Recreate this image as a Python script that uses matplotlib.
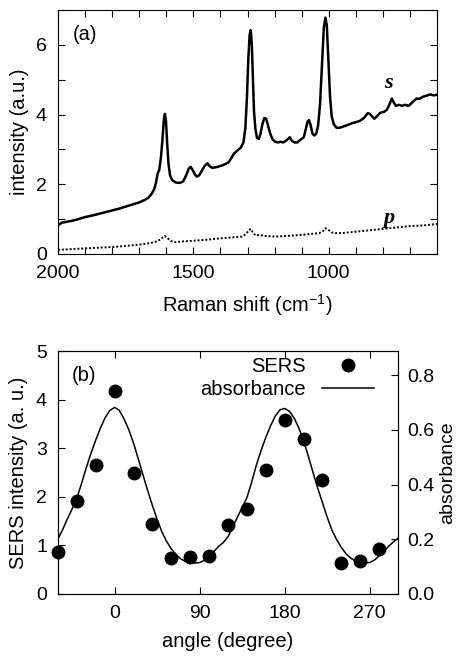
import matplotlib
matplotlib.use('Agg')
import matplotlib.pyplot as plt
import numpy as np
from matplotlib.ticker import MultipleLocator, FixedLocator

plt.rcParams['font.family'] = ['Liberation Sans', 'DejaVu Sans']
plt.rcParams['font.size'] = 14
plt.rcParams['mathtext.fontset'] = 'custom'
plt.rcParams['mathtext.rm'] = 'Liberation Sans'
plt.rcParams['mathtext.default'] = 'regular'

######################################
### DATA #############################
######################################
# (a) Raman spectra, s and p polarisation
s_shift = [2000, 1985, 1970, 1950, 1925, 1900, 1875, 1850, 1825, 1800, 1775, 1750,
           1725, 1700, 1680, 1665, 1655, 1645, 1638, 1632, 1626, 1620, 1614, 1609,
           1605, 1601, 1597, 1592, 1586, 1578, 1565, 1550, 1538, 1527, 1517, 1510,
           1502, 1494, 1487, 1478, 1468, 1458, 1448, 1440, 1430, 1410, 1390, 1370,
           1360, 1350, 1340, 1325, 1315, 1308, 1302, 1297, 1292, 1288, 1284, 1280,
           1276, 1271, 1265, 1258, 1252, 1245, 1238, 1231, 1224, 1216, 1208, 1198,
           1188, 1178, 1168, 1158, 1150, 1144, 1136, 1126, 1116, 1104, 1092, 1084,
           1078, 1073, 1067, 1060, 1053, 1046, 1039, 1032, 1025, 1018, 1012, 1007,
           1001, 995, 989, 981, 971, 960, 945, 930, 915, 900, 885, 870, 862, 856,
           848, 840, 832, 822, 810, 795, 785, 775, 767, 760, 752, 740, 730, 718,
           705, 695, 685, 675, 665, 655, 645, 635, 625, 612, 600]
s_int = [0.83, 0.90, 0.92, 0.95, 1.00, 1.06, 1.10, 1.15, 1.20, 1.25, 1.30, 1.36,
         1.42, 1.48, 1.55, 1.62, 1.72, 1.85, 2.05, 2.30, 2.42, 2.75, 3.30, 3.85,
         4.02, 3.80, 3.20, 2.60, 2.25, 2.12, 2.05, 2.04, 2.08, 2.25, 2.45, 2.50,
         2.40, 2.28, 2.22, 2.26, 2.40, 2.53, 2.60, 2.52, 2.47, 2.50, 2.55, 2.63,
         2.75, 2.88, 2.95, 3.05, 3.20, 3.60, 4.50, 5.60, 6.30, 6.42, 6.00, 5.00,
         4.10, 3.60, 3.33, 3.30, 3.45, 3.72, 3.90, 3.88, 3.68, 3.45, 3.30, 3.22,
         3.20, 3.22, 3.20, 3.25, 3.30, 3.35, 3.25, 3.20, 3.20, 3.28, 3.35, 3.60,
         3.80, 3.84, 3.70, 3.45, 3.40, 3.45, 3.70, 4.30, 5.40, 6.50, 6.78, 6.55,
         5.50, 4.50, 3.95, 3.72, 3.62, 3.62, 3.66, 3.70, 3.75, 3.78, 3.82, 3.90,
         3.98, 4.04, 4.02, 3.95, 3.88, 3.95, 4.05, 4.08, 4.14, 4.30, 4.46, 4.35,
         4.25, 4.28, 4.25, 4.28, 4.25, 4.32, 4.40, 4.46, 4.45, 4.50, 4.53, 4.55,
         4.58, 4.55, 4.57]

p_shift = [2000, 1950, 1900, 1850, 1800, 1750, 1700, 1660, 1635, 1618, 1606, 1595,
           1582, 1565, 1540, 1500, 1450, 1400, 1350, 1320, 1305, 1295, 1288, 1280,
           1270, 1255, 1240, 1200, 1150, 1100, 1060, 1035, 1022, 1012, 1002, 990,
           975, 950, 900, 850, 800, 750, 700, 650, 600]
p_int = [0.12, 0.14, 0.16, 0.18, 0.20, 0.23, 0.27, 0.31, 0.36, 0.44, 0.52, 0.45,
         0.37, 0.34, 0.36, 0.38, 0.41, 0.45, 0.48, 0.50, 0.58, 0.68, 0.72, 0.62,
         0.53, 0.55, 0.52, 0.50, 0.52, 0.55, 0.58, 0.60, 0.65, 0.74, 0.70, 0.62,
         0.60, 0.60, 0.64, 0.68, 0.72, 0.76, 0.80, 0.82, 0.86]

# (b) angular dependence
sers_angle = [-60, -40, -20, 0, 20, 40, 60, 80, 100, 120, 140, 160, 180, 200,
              220, 240, 260, 280]
sers_int = [0.86, 1.92, 2.65, 4.17, 2.49, 1.44, 0.74, 0.76, 0.78, 1.42, 1.75,
            2.56, 3.57, 3.18, 2.35, 0.63, 0.67, 0.92]

abs_angle = list(range(-60, 301, 5))
abs_val = [0.201, 0.236, 0.275, 0.311, 0.350, 0.405, 0.462, 0.515, 0.563, 0.607,
           0.645, 0.671, 0.682, 0.671, 0.639, 0.600, 0.551, 0.494, 0.435, 0.377,
           0.323, 0.272, 0.227, 0.192, 0.165, 0.144, 0.128, 0.119, 0.115, 0.113,
           0.115, 0.123, 0.137, 0.155, 0.174, 0.188, 0.209, 0.245, 0.281, 0.316,
           0.352, 0.408, 0.471, 0.524, 0.572, 0.614, 0.650, 0.673, 0.678, 0.668,
           0.643, 0.607, 0.561, 0.504, 0.444, 0.387, 0.334, 0.281, 0.234, 0.199,
           0.170, 0.147, 0.131, 0.121, 0.115, 0.113, 0.115, 0.124, 0.139, 0.156,
           0.174, 0.190, 0.204]

######################################
### PLOT #############################
######################################
fig = plt.figure(figsize=(4.61, 6.62), dpi=100)

tick_kw = dict(direction='in', length=5, width=0.8, top=True, right=True)

# ---- panel (a)
ax1 = fig.add_axes([58/461, 1 - 254/662, 379/461, 244/662])
ax1.plot(s_shift, s_int, color='black', lw=1.8)
ax1.plot(p_shift, p_int, color='black', lw=1.4, ls=(0, (1, 1)))
ax1.set_xlim(2000, 600)
ax1.set_ylim(0, 7)
ax1.xaxis.set_major_locator(FixedLocator([2000, 1500, 1000]))
ax1.xaxis.set_minor_locator(MultipleLocator(100))
ax1.yaxis.set_major_locator(MultipleLocator(2))
ax1.yaxis.set_minor_locator(MultipleLocator(1))
ax1.tick_params(which='both', **tick_kw)
ax1.tick_params(labelsize=14, pad=8)
ax1.set_xlabel('Raman shift (cm$^{-1}$)', fontsize=14.5, labelpad=7)
ax1.set_ylabel('intensity (a.u.)', fontsize=14.5, labelpad=5)
ax1.text(0.04, 0.94, '(a)', transform=ax1.transAxes, fontsize=14.5, va='top')
ax1.text(778, 4.75, 's', fontsize=16, family='Liberation Serif', style='italic',
         weight='bold', ha='center')
ax1.text(778, 0.88, 'p', fontsize=16, family='Liberation Serif', style='italic',
         weight='bold', ha='center')

# ---- panel (b)
ax2 = fig.add_axes([58/461, 1 - 594/662, 340/461, 243/662])
ax3 = ax2.twinx()
pts, = ax2.plot(sers_angle, sers_int, 'o', color='black', ms=9, clip_on=False,
                zorder=5)
line, = ax3.plot(abs_angle, abs_val, color='black', lw=1.1)
ax2.set_xlim(-60, 300)
ax2.set_ylim(0, 5)
ax3.set_ylim(0, 0.888)
ax2.set_xticks([0, 90, 180, 270])
ax2.yaxis.set_major_locator(MultipleLocator(1))
ax3.yaxis.set_major_locator(MultipleLocator(0.2))
ax3.yaxis.set_major_formatter(plt.FormatStrFormatter('%.1f'))
ax2.tick_params(direction='in', length=5, width=0.8, top=True, right=False,
                labelsize=14, pad=8)
ax3.tick_params(direction='in', length=5, width=0.8, labelsize=14, pad=7)
ax2.set_xlabel('angle (degree)', fontsize=14.5, labelpad=7)
ax2.set_ylabel('SERS intensity (a. u.)', fontsize=14.5, labelpad=6)
ax3.set_ylabel('absorbance', fontsize=14, labelpad=3)
ax2.text(0.04, 0.94, '(b)', transform=ax2.transAxes, fontsize=14.5, va='top')
ax2.set_zorder(ax3.get_zorder() + 1)
ax2.patch.set_visible(False)
ax2.legend([pts, line], ['SERS', 'absorbance'], loc='upper right',
           bbox_to_anchor=(0.93, 0.975), frameon=False, markerfirst=False,
           fontsize=14.5, handlelength=2.6, borderaxespad=0, borderpad=0,
           handletextpad=0.8, labelspacing=0.2)

for ax in (ax1, ax2, ax3):
    for sp in ax.spines.values():
        sp.set_linewidth(0.8)

fig.savefig('out.png', dpi=100)
